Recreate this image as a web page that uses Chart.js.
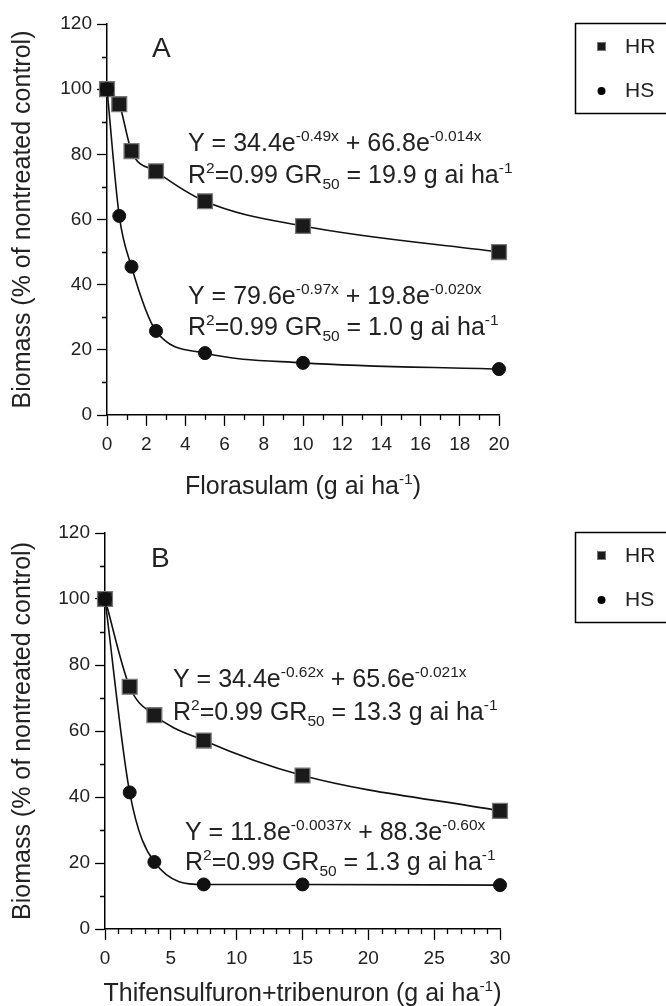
<!DOCTYPE html>
<html>
<head>
<meta charset="utf-8">
<script src="https://cdn.jsdelivr.net/npm/chart.js@4.4.1/dist/chart.umd.min.js"></script>
<style>
  body { margin: 0; background: #fff; }
  #wrap { position: relative; width: 666px; height: 1006px; }
  canvas { position: absolute; left: 0; }
</style>
</head>
<body>
<div id="wrap">
  <canvas id="chartA" width="666" height="509" style="top:0"></canvas>
  <canvas id="chartB" width="666" height="497" style="top:509px"></canvas>
</div>
<script>
// panel A: florasulam
const doseA = [0, 0.625, 1.25, 2.5, 5, 10, 20];
const hrA = [100, 95.4, 81.0, 74.8, 65.6, 58.0, 50.0];
const hsA = [100, 61.1, 45.5, 25.8, 19.0, 16.0, 14.1];
const xTicksA = [0, 2, 4, 6, 8, 10, 12, 14, 16, 18, 20];

// panel B: thifensulfuron + tribenuron
const doseB = [0, 1.875, 3.75, 7.5, 15, 30];
const hrB = [100, 73.4, 64.8, 57.1, 46.5, 35.8];
const hsB = [100, 41.4, 20.3, 13.5, 13.5, 13.3];
const xTicksB = [0, 5, 10, 15, 20, 25, 30];

const yTicks = [0, 20, 40, 60, 80, 100, 120];
const seriesNames = ['HR', 'HS'];

const FONT = '"Liberation Sans", Arial, Helvetica, sans-serif';
const INK = '#222';

// draw text made of normal / sup / sub pieces
function richText(ctx, parts, x, y, size, align) {
  const piece = p => {
    const s = p[1] === 'n' ? size : size * 0.62;
    return { t: p[0], s: s, dy: p[1] === 'sup' ? -size * 0.40 : p[1] === 'sub' ? size * 0.22 : 0 };
  };
  const items = parts.map(piece);
  let total = 0;
  items.forEach(it => { ctx.font = it.s + 'px ' + FONT; it.w = ctx.measureText(it.t).width; total += it.w; });
  let cx = align === 'center' ? x - total / 2 : x;
  ctx.textAlign = 'left';
  ctx.textBaseline = 'alphabetic';
  items.forEach(it => {
    ctx.font = it.s + 'px ' + FONT;
    ctx.fillText(it.t, cx, y + it.dy);
    cx += it.w;
  });
}

function eqLines(a, k1, b, k2, gr) {
  return [
    [['Y = ' + a + 'e', 'n'], [k1, 'sup'], [' + ' + b + 'e', 'n'], [k2, 'sup']],
    [['R', 'n'], ['2', 'sup'], ['=0.99 GR', 'n'], ['50', 'sub'], [' = ' + gr + ' g ai ha', 'n'], ['-1', 'sup']]
  ];
}

const decorPlugin = {
  id: 'decor',
  afterDraw(chart, args, o) {
    const ctx = chart.ctx;
    const xs = chart.scales.x, ys = chart.scales.y;
    ctx.save();
    ctx.strokeStyle = '#000';
    ctx.lineWidth = 1.3;
    // minor ticks
    ctx.beginPath();
    for (let v = 10; v < 120; v += 20) {
      const py = Math.round(ys.getPixelForValue(v)) + 0.5;
      ctx.moveTo(xs.left - 5, py); ctx.lineTo(xs.left, py);
    }
    for (let v = 1; v < xs.max; v++) {
      if (v % o.major === 0) continue;
      const px = Math.round(xs.getPixelForValue(v)) + 0.5;
      ctx.moveTo(px, ys.bottom); ctx.lineTo(px, ys.bottom + 5);
    }
    ctx.stroke();

    ctx.fillStyle = INK;
    // panel letter
    ctx.font = '28px ' + FONT;
    ctx.textAlign = 'left';
    ctx.textBaseline = 'alphabetic';
    ctx.fillText(o.letter, o.letterX, o.letterY);

    // equations
    o.eqs.forEach(e => {
      richText(ctx, e.lines[0], e.x, e.y, 25, 'left');
      richText(ctx, e.lines[1], e.x, e.y + e.gap, 25, 'left');
    });

    // axis titles
    richText(ctx, o.xTitle, (xs.left + xs.right) / 2, o.xTitleY, 25, 'center');
    ctx.save();
    ctx.translate(23, (ys.top + ys.bottom) / 2);
    ctx.rotate(-Math.PI / 2);
    ctx.font = '25px ' + FONT;
    ctx.textAlign = 'center';
    ctx.textBaseline = 'middle';
    ctx.fillText('Biomass (% of nontreated control)', 0, 0);
    ctx.restore();

    // legend box
    const lt = o.legendTop;
    ctx.lineWidth = 1.5;
    ctx.strokeStyle = '#000';
    ctx.strokeRect(575.5, lt + 0.5, 120, 90);
    ctx.fillStyle = '#1a1a1a';
    ctx.fillRect(597, lt + 19, 9, 9);
    ctx.strokeStyle = '#777';
    ctx.lineWidth = 1;
    ctx.strokeRect(597.5, lt + 19.5, 8, 8);
    ctx.fillStyle = '#000';
    ctx.beginPath();
    ctx.arc(601.5, lt + 68, 4, 0, Math.PI * 2);
    ctx.fill();
    ctx.fillStyle = INK;
    ctx.font = '21px ' + FONT;
    ctx.textBaseline = 'middle';
    ctx.fillText(seriesNames[0], 625, lt + 24);
    ctx.fillText(seriesNames[1], 625, lt + 68);
    ctx.restore();
  }
};

function makeChart(id, dose, hr, hs, xTicks, xMax, yWidth, xHeight, padRight, deco) {
  const hrPts = dose.map((d, i) => ({ x: d, y: hr[i] }));
  const hsPts = dose.map((d, i) => ({ x: d, y: hs[i] }));
  return new Chart(document.getElementById(id), {
    type: 'scatter',
    data: {
      datasets: [
        {
          label: seriesNames[1], data: hsPts, showLine: true, cubicInterpolationMode: 'monotone',
          borderColor: '#111', borderWidth: 1.6, pointStyle: 'circle', pointRadius: 6.5,
          pointBackgroundColor: '#111', pointBorderColor: '#111', pointBorderWidth: 1, clip: false
        },
        {
          label: seriesNames[0], data: hrPts, showLine: true, cubicInterpolationMode: 'monotone',
          borderColor: '#111', borderWidth: 1.6, pointStyle: 'rect', pointRadius: 10.5,
          pointBackgroundColor: '#1a1a1a', pointBorderColor: '#777', pointBorderWidth: 1.3, clip: false
        }
      ]
    },
    options: {
      responsive: false,
      animation: false,
      layout: { padding: { top: 24, right: padRight, left: 0, bottom: 0 } },
      plugins: { legend: { display: false }, tooltip: { enabled: false }, decor: deco },
      scales: {
        x: {
          type: 'linear', min: 0, max: xMax,
          afterBuildTicks: s => { s.ticks = xTicks.map(v => ({ value: v })); },
          afterFit: s => { s.height = xHeight; },
          border: { color: '#000', width: 1.5 },
          grid: { drawOnChartArea: false, drawTicks: true, tickLength: 11, tickColor: '#000', tickWidth: 1.3 },
          ticks: { color: INK, padding: 7, font: { family: FONT, size: 19 }, maxRotation: 0, autoSkip: false }
        },
        y: {
          type: 'linear', min: 0, max: 120,
          afterBuildTicks: s => { s.ticks = yTicks.map(v => ({ value: v })); },
          afterFit: s => { s.width = yWidth; },
          border: { color: '#000', width: 1.5 },
          grid: { drawOnChartArea: false, drawTicks: true, tickLength: 10, tickColor: '#000', tickWidth: 1.3 },
          ticks: { color: INK, padding: 5, font: { family: FONT, size: 19 } }
        }
      }
    },
    plugins: [decorPlugin]
  });
}

makeChart('chartA', doseA, hrA, hsA, xTicksA, 20, 107, 94, 167, {
  major: 2, letter: 'A', letterX: 152, letterY: 57, legendTop: 23,
  xTitle: [['Florasulam (g ai ha', 'n'], ['-1', 'sup'], [')', 'n']], xTitleY: 494,
  eqs: [
    { x: 188, y: 151, gap: 32, lines: eqLines('34.4', '-0.49x', '66.8', '-0.014x', '19.9') },
    { x: 188, y: 304, gap: 31, lines: eqLines('79.6', '-0.97x', '19.8', '-0.020x', '1.0') }
  ]
});

makeChart('chartB', doseB, hrB, hsB, xTicksB, 30, 105, 77, 166, {
  major: 5, letter: 'B', letterX: 151, letterY: 58, legendTop: 23,
  xTitle: [['Thifensulfuron+tribenuron (g ai ha', 'n'], ['-1', 'sup'], [')', 'n']], xTitleY: 492,
  eqs: [
    { x: 173, y: 178, gap: 33, lines: eqLines('34.4', '-0.62x', '65.6', '-0.021x', '13.3') },
    { x: 185, y: 331, gap: 30, lines: [
      [['Y = 11.8e', 'n'], ['-0.0037x', 'sup'], [' + 88.3e', 'n'], ['-0.60x', 'sup']],
      [['R', 'n'], ['2', 'sup'], ['=0.99 GR', 'n'], ['50', 'sub'], [' = 1.3 g ai ha', 'n'], ['-1', 'sup']]
    ] }
  ]
});
</script>
</body>
</html>
